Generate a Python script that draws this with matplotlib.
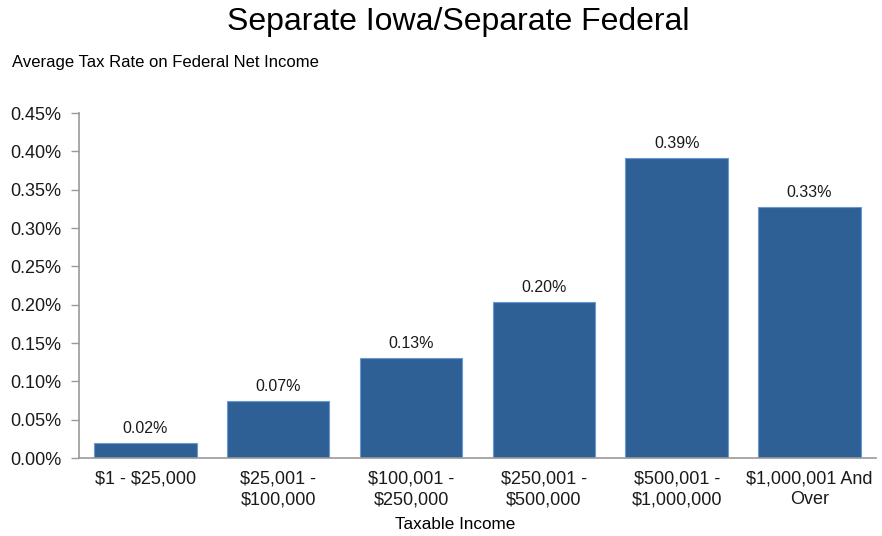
import matplotlib
matplotlib.use("Agg")
import matplotlib.pyplot as plt
from matplotlib.ticker import FuncFormatter

categories = ["$1 - $25,000", "$25,001 -\n$100,000", "$100,001 -\n$250,000",
              "$250,001 -\n$500,000", "$500,001 -\n$1,000,000", "$1,000,001 And\nOver"]
values = [0.0196, 0.0744, 0.1304, 0.2035, 0.391, 0.327]
labels = ["0.02%", "0.07%", "0.13%", "0.20%", "0.39%", "0.33%"]
yticks = [0.0, 0.05, 0.10, 0.15, 0.20, 0.25, 0.30, 0.35, 0.40, 0.45]

plt.rcParams['font.family'] = ['Liberation Sans', 'DejaVu Sans']
plt.rcParams['text.parse_math'] = False

fig = plt.figure(figsize=(8.82, 5.36), dpi=100)
ax = fig.add_axes([0.0896, 0.1455, 0.9034, 0.6435])

x = list(range(len(categories)))
bars = ax.bar(x, values, width=0.77, color="#2E6096", edgecolor="#6A9AD0", linewidth=0.8)
for xi, v, lab in zip(x, values, labels):
    ax.annotate(lab, (xi, v), xytext=(0, 5), textcoords="offset points",
                ha="center", va="bottom", fontsize=11.5, color="#1a1a1a")

ax.set_xlim(-0.5, len(categories) - 0.5)
ax.set_ylim(0, 0.45)
ax.set_yticks(yticks)
ax.yaxis.set_major_formatter(FuncFormatter(lambda v, p: f"{v:.2f}%"))
ax.set_xticks(x)
ax.set_xticklabels(categories, fontsize=13, color="#1a1a1a", linespacing=1.3)
ax.tick_params(axis='x', length=0, pad=9)
ax.tick_params(axis='y', length=6, width=1, color="#999999", labelsize=13, labelcolor="#1a1a1a", pad=6.5)
for s in ["top", "right"]:
    ax.spines[s].set_visible(False)
ax.spines["left"].set_color("#999999")
ax.spines["bottom"].set_color("#999999")
ax.spines["left"].set_linewidth(1.2)
ax.spines["bottom"].set_linewidth(1.2)

fig.text(0.52, 0.959, "Separate Iowa/Separate Federal", ha="center", va="center", fontsize=23, color="black")
fig.text(0.0136, 0.884, "Average Tax Rate on Federal Net Income", ha="left", va="center", fontsize=12, color="black")
fig.text(0.516, 0.022, "Taxable Income", ha="center", va="center", fontsize=12.3, color="black")

fig.savefig("out.png", dpi=100)
